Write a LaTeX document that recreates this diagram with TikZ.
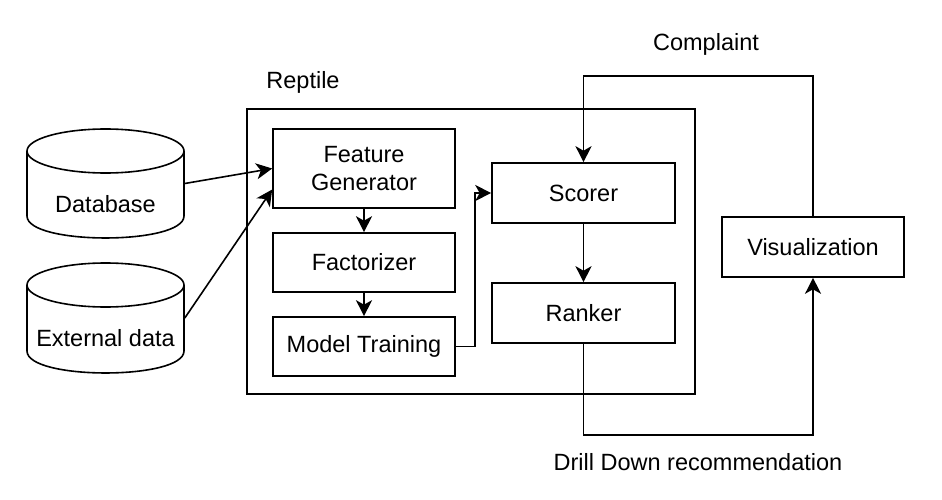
\documentclass[tikz,border=0pt]{standalone}
\usepackage{fontspec}
\setmainfont{Liberation Sans}
\usetikzlibrary{arrows.meta,calc}
\begin{document}
\begin{tikzpicture}[x=1pt,y=-1pt,line width=1.6pt,
  every node/.style={font=\fontsize{23.5pt}{28pt}\selectfont,inner sep=0pt},
  box/.style={draw,align=center,minimum width=182pt},
  cylnode/.style={minimum width=157pt,minimum height=109pt},
  arr/.style={-{Stealth[length=16pt,width=16pt,inset=4.5pt]}}]
\useasboundingbox (0,0) rectangle (942,500);
% outer frame
\node[draw,minimum width=448pt,minimum height=285pt] (reptile) at (471,251.5) {};
\node (reptilelbl) at (303,82) {Reptile};
% cylinders
\node[cylnode,label={[yshift=-20.5pt]center:Database}] (db) at (105.5,183.5) {};
\draw (27,151) -- (27,216) .. controls (27,245.3) and (184,245.3) .. (184,216) -- (184,151);
\draw (105.5,151) ellipse [x radius=78.5,y radius=22];
\node[cylnode,label={[yshift=-20pt]center:External data}] (ext) at (105.5,318) {};
\draw (27,285) -- (27,351) .. controls (27,380.3) and (184,380.3) .. (184,351) -- (184,285);
\draw (105.5,285) ellipse [x radius=78.5,y radius=22];
% inner boxes
\node[box,minimum height=79pt] (fg) at (364,168.5) {Feature\\Generator};
\node[box,minimum height=59pt] (fac) at (364,262.5) {Factorizer};
\node[box,minimum height=59pt] (mt) at (364,346.5) {Model Training};
\node[box,minimum width=183pt,minimum height=60pt] (sc) at (583.5,193) {Scorer};
\node[box,minimum width=183pt,minimum height=60pt] (rk) at (583.5,313) {Ranker};
\node[box,minimum height=60pt] (vis) at (813,247) {Visualization};
% labels
\node (complaint) at (706,44) {Complaint};
\node (drill) at (698,462) {Drill Down recommendation};
% connectors
\draw[arr] (db.east) -- (fg.west);
\draw[arr] (ext.east) -- ($(fg.west)+(0,21)$);
\draw[arr] (fg.south) -- (fac.north);
\draw[arr] (fac.south) -- (mt.north);
\draw[arr] (mt.east) -- ++(19,0) |- (sc.west);
\draw[arr] (sc.south) -- (rk.north);
\draw[arr] (vis.north) -- ++(0,-140) -| (sc.north);
\draw[arr] (rk.south) -- ++(0,91) -| (vis.south);
\end{tikzpicture}
\end{document}
